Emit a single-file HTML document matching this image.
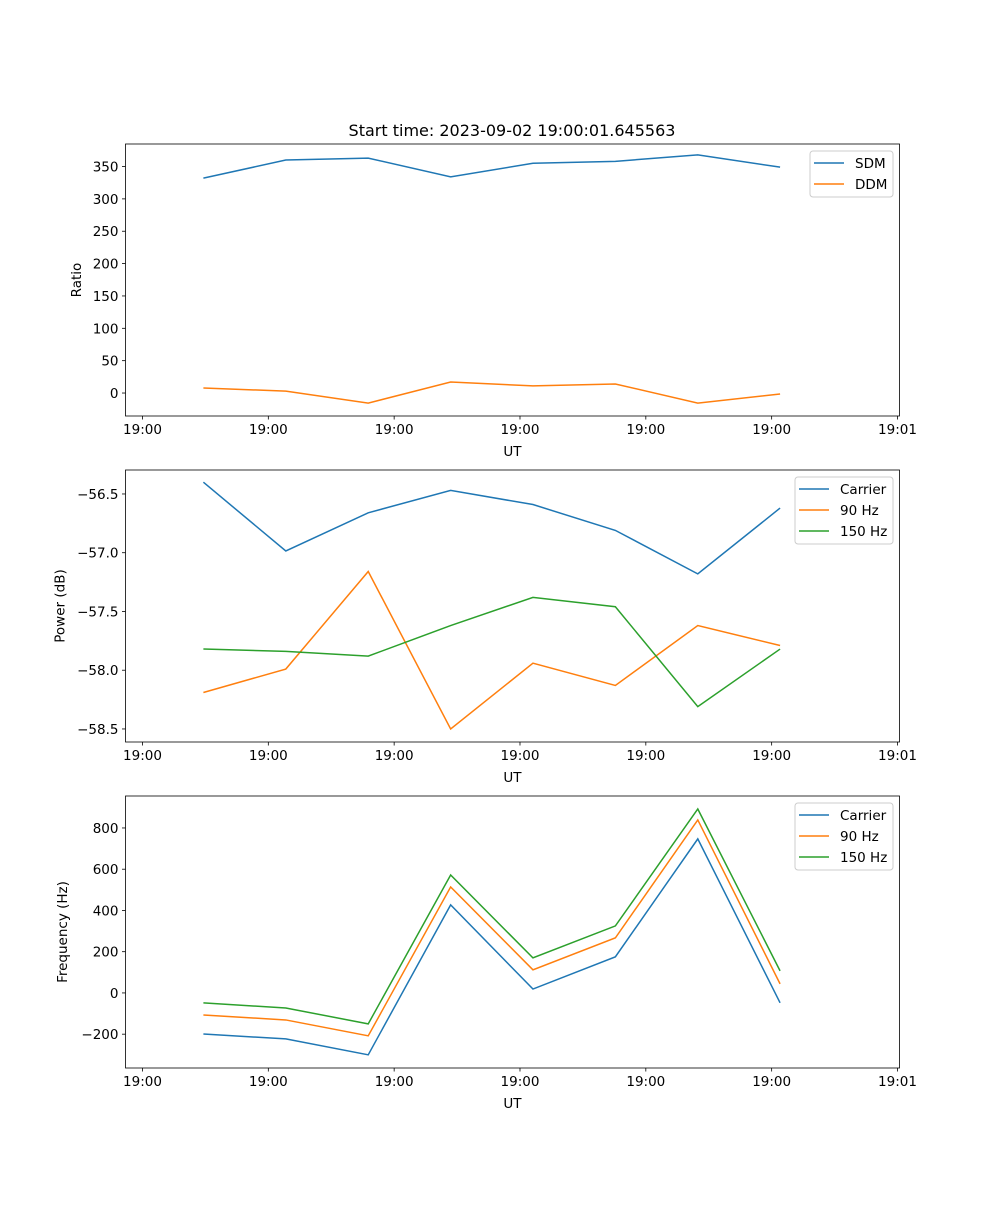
<!DOCTYPE html>
<html><head><meta charset="utf-8"><style>
html,body{margin:0;padding:0;background:#fff;}
svg text{font-family:"DejaVu Sans","Liberation Sans",sans-serif;fill:#000;}
</style></head><body>
<svg id="fig" width="1000" height="1200" viewBox="0 0 1000 1200" xmlns="http://www.w3.org/2000/svg">
<rect width="1000" height="1200" fill="#fff"/>
<text x="512" y="136" font-size="16" text-anchor="middle">Start time: 2023-09-02 19:00:01.645563</text>
</svg>
<script>
const times = [4.84, 11.39, 17.94, 24.49, 31.03, 37.58, 44.13, 50.67];
const xTicks = [0, 10, 20, 30, 40, 50, 60];
const xTickLabels = ["19:00","19:00","19:00","19:00","19:00","19:00","19:01"];

const sdm = [332, 360, 363, 334, 355, 358, 368, 349];
const ddm = [7.7, 3, -15.5, 17, 11, 14, -15.5, -1.5];
const ratioTicks = [0, 50, 100, 150, 200, 250, 300, 350];

const powerCarrier = [-56.40, -56.985, -56.66, -56.47, -56.59, -56.81, -57.18, -56.62];
const power90 = [-58.19, -57.99, -57.16, -58.5, -57.94, -58.13, -57.62, -57.79];
const power150 = [-57.82, -57.84, -57.88, -57.62, -57.38, -57.46, -58.31, -57.82];
const powerTicks = [-56.5, -57.0, -57.5, -58.0, -58.5];
const powerTickLabels = ["\u221256.5","\u221257.0","\u221257.5","\u221258.0","\u221258.5"];

const freqCarrier = [-199, -223, -300, 427, 19, 175, 747, -48];
const freq90 = [-107, -131, -208, 514, 112, 267, 839, 44];
const freq150 = [-48, -73, -150, 572, 170, 325, 892, 107];
const freqTicks = [-200, 0, 200, 400, 600, 800];
const freqTickLabels = ["\u2212200","0","200","400","600","800"];

const NS = "http://www.w3.org/2000/svg";
const fig = document.getElementById('fig');
function mk(tag, attrs, parent){
  const e = document.createElementNS(NS, tag);
  for (const k in attrs) e.setAttribute(k, attrs[k]);
  (parent||fig).appendChild(e);
  return e;
}
const L = 125.5, R = 899.5;
const xmin = -1.35, xmax = 60.16;
function xs(v){ return L + (v - xmin) / (xmax - xmin) * (R - L); }

function panel(name, top, bottom, ymin, ymax, yticks, ylabels, ylabel, lx, series, legend){
  const g = mk('g', {});
  
  
  const ys = v => bottom - (v - ymin) / (ymax - ymin) * (bottom - top);
  series.forEach(s => {
    const pts = s.data.map((v,i) => xs(times[i]).toFixed(2) + ',' + ys(v).toFixed(2)).join(' ');
    const pl = mk('polyline', {points: pts, fill: 'none', stroke: s.color, 'stroke-width': 1.5}, g);
    
    
  });
  const fr = mk('rect', {x: L, y: top, width: R - L, height: bottom - top, fill: 'none', stroke: '#000', 'stroke-width': 0.8}, g);
  
  
  xTicks.forEach((t,i) => {
    const x = xs(t);
    mk('line', {x1: x, x2: x, y1: bottom, y2: bottom + 3.5, stroke: '#000', 'stroke-width': 0.8}, g);
    const tx = mk('text', {x: x, y: bottom + 18, 'font-size': 13.5, 'text-anchor': 'middle'}, g);
    tx.textContent = xTickLabels[i];
    
    
  });
  const xl = mk('text', {x: (L+R)/2, y: bottom + 40, 'font-size': 13.5, 'text-anchor': 'middle'}, g);
  xl.textContent = 'UT';
  
  
  yticks.forEach((t,i) => {
    const y = ys(t);
    mk('line', {x1: L - 3.5, x2: L, y1: y, y2: y, stroke: '#000', 'stroke-width': 0.8}, g);
    const tx = mk('text', {x: L - 7, y: y + 5, 'font-size': 13.5, 'text-anchor': 'end'}, g);
    tx.textContent = ylabels[i];
    
    
  });
  const cy = (top + bottom) / 2;
  const yl = mk('text', {x: lx, y: cy, 'font-size': 13.5, 'text-anchor': 'middle', transform: 'rotate(-90 ' + lx + ' ' + cy + ')'}, g);
  yl.textContent = ylabel;
  
  
  const lg = mk('g', {}, g);
  
  
  mk('rect', {x: legend.x, y: top + 7, width: 893 - legend.x, height: 4 + series.length * 21, rx: 3, fill: '#fff', 'fill-opacity': 0.8, stroke: '#ccc', 'stroke-width': 1}, lg);
  series.forEach((s,i) => {
    const y = top + 19 + i * 21;
    mk('line', {x1: legend.x + 4, x2: legend.x + 34, y1: y, y2: y, stroke: s.color, 'stroke-width': 1.5}, lg);
    const tx = mk('text', {x: legend.x + 45, y: y + 5, 'font-size': 13.5}, lg);
    tx.textContent = s.label;
    
    
  });
}
const BLUE = '#1f77b4', ORANGE = '#ff7f0e', GREEN = '#2ca02c';
panel('ratio', 144, 416, -35.5, 384.8, ratioTicks, ratioTicks.map(String), 'Ratio', 81,
  [{key:'sdm', label:'SDM', color:BLUE, data:sdm},{key:'ddm', label:'DDM', color:ORANGE, data:ddm}], {x:810});
panel('power', 470, 742, -58.611, -56.296, powerTicks, powerTickLabels, 'Power (dB)', 64.5,
  [{key:'carrier', label:'Carrier', color:BLUE, data:powerCarrier},{key:'90hz', label:'90 Hz', color:ORANGE, data:power90},{key:'150hz', label:'150 Hz', color:GREEN, data:power150}], {x:795});
panel('frequency', 796, 1068, -364, 955, freqTicks, freqTickLabels, 'Frequency (Hz)', 67,
  [{key:'carrier', label:'Carrier', color:BLUE, data:freqCarrier},{key:'90hz', label:'90 Hz', color:ORANGE, data:freq90},{key:'150hz', label:'150 Hz', color:GREEN, data:freq150}], {x:795});
</script>
</body></html>
